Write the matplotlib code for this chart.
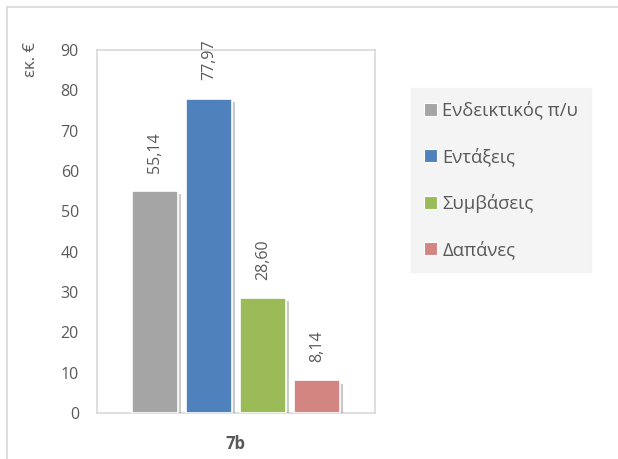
import matplotlib.pyplot as plt
import matplotlib.patheffects as pe
from matplotlib.lines import Line2D
from matplotlib.patches import Patch

plt.rcParams['font.family'] = ['Open Sans', 'DejaVu Sans']

category = '7b'
series = ['Ενδεικτικός π/υ', 'Εντάξεις', 'Συμβάσεις', 'Δαπάνες']
values = [55.14, 77.97, 28.60, 8.14]
labels = ['55,14', '77,97', '28,60', '8,14']
colors = ['#A5A5A5', '#4F81BD', '#9BBB59', '#D38582']

txt = '#595959'
fig = plt.figure(figsize=(6.18, 4.59), dpi=100)
ax = fig.add_axes([97 / 618, 46 / 459, 278 / 618, 363 / 459])

step = 0.2
width = 0.168
for i, (name, v, lab, c) in enumerate(zip(series, values, labels, colors)):
    x = (i - 1.5) * step
    b = ax.bar(x, v, width=width, color=c, edgecolor='white', linewidth=1.2, zorder=3)
    b[0].set_path_effects([pe.SimplePatchShadow(offset=(2.5, -2.5), alpha=0.25),
                           pe.Normal()])
    ax.annotate(lab, (x, v), xytext=(0, 13), textcoords='offset points',
                rotation=90, ha='center', va='bottom', fontsize=11.5, color=txt)

ax.set_xlim(-0.515, 0.515)
ax.set_ylim(0, 90)
ax.set_yticks(range(0, 91, 10))
ax.set_xticks([0])
ax.set_xticklabels([category], fontsize=12, fontweight='bold', color=txt)
ax.tick_params(axis='x', length=0, pad=16)
ax.tick_params(axis='y', length=0, pad=13, labelsize=11.5, labelcolor=txt)
for s in ax.spines.values():
    s.set_color('#D9D9D9')
    s.set_linewidth(1.2)

fig.text(31 / 618, 1 - 42 / 459, 'εκ. €', rotation=90, ha='center', va='top',
         fontsize=12, color=txt)

handles = [Patch(facecolor=c, edgecolor='white', linewidth=0.8) for c in colors]
leg = fig.legend(handles, series, loc='upper left',
                 bbox_to_anchor=(411 / 618, 1 - 88 / 459),
                 frameon=True, fancybox=False, fontsize=13.3, labelspacing=1.5,
                 handlelength=0.7, handleheight=0.7, handletextpad=0.3,
                 borderpad=0.7, borderaxespad=0)
leg.get_frame().set_facecolor('#F2F2F2')
leg.get_frame().set_edgecolor('#F2F2F2')
for t in leg.get_texts():
    t.set_color(txt)

# outer chart border
fig.add_artist(Line2D([6.5 / 618, 6.5 / 618], [0, 1 - 6.5 / 459], color='#D9D9D9', lw=1.2))
fig.add_artist(Line2D([6.5 / 618, 1], [1 - 6.5 / 459, 1 - 6.5 / 459], color='#D9D9D9', lw=1.2))

fig.savefig('out.png', dpi=100)
